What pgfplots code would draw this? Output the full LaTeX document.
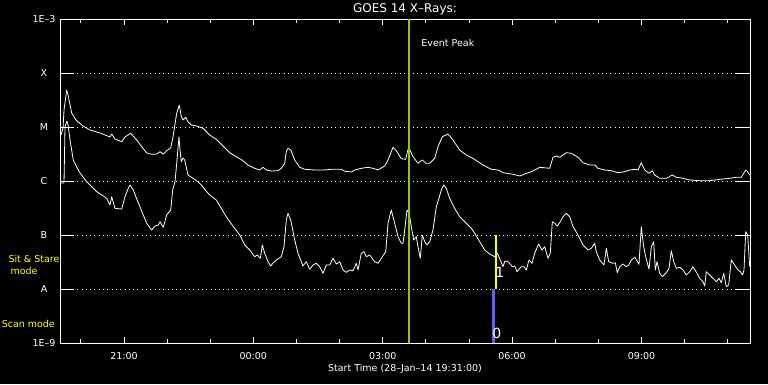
\documentclass[border=0pt]{standalone}
\usepackage{pgfplots}
\pgfplotsset{compat=1.18}
\usepackage{pgfplotstable}
\usepackage{fontspec}
\setmainfont{DejaVu Sans}
\definecolor{peakgreen}{RGB}{150,200,0}
\definecolor{scanblue}{RGB}{96,96,255}
\definecolor{modeyellow}{RGB}{255,255,0}

% x: hours since start (28-Jan-14 19:31:00); y: log10 of flux (W/m^2)
\pgfplotstableread{
h L
0.023 -5.148
0.070 -5.019
0.093 -4.685
0.155 -4.315
0.186 -4.407
0.271 -4.741
0.371 -4.870
0.533 -4.981
0.696 -5.056
0.928 -5.111
1.159 -5.185
1.199 -5.130
1.275 -5.222
1.431 -5.272
1.507 -5.185
1.639 -5.117
1.779 -5.241
1.901 -5.370
2.010 -5.481
2.126 -5.506
2.242 -5.500
2.319 -5.457
2.395 -5.500
2.474 -5.439
2.567 -5.389
2.620 -5.185
2.706 -4.746
2.766 -4.593
2.813 -4.809
2.852 -4.870
2.915 -4.820
2.968 -4.902
3.045 -4.963
3.170 -4.981
3.316 -5.024
3.471 -5.148
3.624 -5.228
3.780 -5.352
3.935 -5.476
4.088 -5.550
4.220 -5.611
4.359 -5.704
4.515 -5.765
4.631 -5.796
4.707 -5.746
4.784 -5.796
4.900 -5.815
5.055 -5.809
5.132 -5.765
5.210 -5.672
5.248 -5.457
5.287 -5.394
5.350 -5.426
5.443 -5.611
5.558 -5.746
5.674 -5.783
5.906 -5.796
6.138 -5.796
6.291 -5.783
6.523 -5.783
6.602 -5.820
6.755 -5.833
6.834 -5.796
6.987 -5.765
7.142 -5.746
7.258 -5.765
7.374 -5.796
7.529 -5.722
7.606 -5.611
7.722 -5.376
7.798 -5.439
7.914 -5.587
8.016 -5.598
8.070 -5.413
8.123 -5.439
8.186 -5.550
8.301 -5.672
8.401 -5.611
8.480 -5.672
8.573 -5.672
8.689 -5.580
8.765 -5.365
8.865 -5.180
8.997 -5.130
9.113 -5.241
9.268 -5.426
9.422 -5.519
9.577 -5.580
9.809 -5.704
10.001 -5.783
10.157 -5.796
10.272 -5.846
10.504 -5.876
10.667 -5.907
10.776 -5.870
10.929 -5.828
11.124 -5.746
11.355 -5.765
11.432 -5.561
11.509 -5.537
11.587 -5.561
11.740 -5.476
11.856 -5.487
12.012 -5.561
12.128 -5.661
12.283 -5.704
12.399 -5.704
12.475 -5.765
12.631 -5.796
12.784 -5.809
12.939 -5.846
13.094 -5.828
13.210 -5.796
13.333 -5.783
13.403 -5.796
13.479 -5.661
13.558 -5.796
13.658 -5.857
13.734 -5.809
13.790 -5.889
13.906 -5.950
14.059 -5.950
14.198 -5.889
14.291 -5.931
14.446 -5.950
14.602 -5.981
14.834 -5.994
15.066 -5.994
15.297 -5.969
15.529 -5.950
15.682 -5.931
15.798 -5.931
15.900 -5.796
15.946 -5.828
15.993 -5.889
}\longchannel

\pgfplotstableread{
h L
0.023 -6.037
0.093 -6.037
0.116 -5.000
0.162 -4.889
0.192 -4.981
0.232 -5.241
0.308 -5.611
0.387 -5.741
0.464 -5.852
0.619 -6.013
0.735 -6.106
0.851 -6.198
0.967 -6.259
1.083 -6.320
1.159 -6.444
1.199 -6.291
1.275 -6.506
1.431 -6.519
1.507 -6.291
1.577 -6.148
1.623 -6.074
1.700 -6.167
1.779 -6.333
1.855 -6.476
1.932 -6.630
2.010 -6.783
2.126 -6.907
2.203 -6.833
2.280 -6.815
2.319 -6.754
2.395 -6.857
2.474 -6.630
2.567 -6.537
2.613 -6.167
2.667 -6.013
2.713 -5.611
2.759 -5.180
2.783 -5.426
2.813 -5.643
2.852 -5.574
2.892 -5.611
2.968 -5.889
3.084 -5.950
3.200 -6.013
3.277 -6.074
3.369 -6.167
3.471 -6.259
3.624 -6.352
3.740 -6.506
3.856 -6.661
3.942 -6.759
4.051 -6.876
4.167 -7.000
4.283 -7.185
4.399 -7.278
4.515 -7.402
4.575 -7.370
4.645 -7.432
4.691 -7.185
4.747 -7.339
4.823 -7.494
4.886 -7.574
4.939 -7.519
5.016 -7.463
5.132 -7.402
5.194 -7.217
5.248 -6.722
5.287 -6.598
5.350 -6.722
5.443 -7.093
5.519 -7.339
5.635 -7.574
5.711 -7.494
5.790 -7.635
5.867 -7.556
5.943 -7.524
6.022 -7.587
6.099 -7.709
6.175 -7.556
6.254 -7.556
6.330 -7.432
6.407 -7.537
6.486 -7.494
6.562 -7.648
6.639 -7.691
6.718 -7.648
6.794 -7.661
6.871 -7.524
6.910 -7.648
6.987 -7.339
7.049 -7.309
7.103 -7.402
7.181 -7.370
7.297 -7.494
7.374 -7.524
7.450 -7.432
7.553 -7.309
7.606 -6.783
7.682 -6.537
7.761 -6.783
7.838 -7.031
7.914 -7.154
7.954 -7.154
7.993 -6.907
8.046 -6.537
8.093 -6.593
8.146 -6.846
8.202 -7.093
8.262 -7.031
8.301 -7.217
8.355 -7.432
8.401 -7.000
8.457 -7.124
8.510 -7.185
8.573 -7.124
8.649 -6.907
8.726 -6.476
8.788 -6.320
8.842 -6.167
8.897 -6.074
8.957 -6.135
9.036 -6.320
9.152 -6.506
9.268 -6.661
9.422 -6.783
9.538 -6.876
9.616 -6.969
9.732 -7.124
9.848 -7.278
9.964 -7.352
10.080 -7.402
10.140 -7.339
10.210 -7.463
10.272 -7.587
10.312 -7.494
10.372 -7.481
10.428 -7.524
10.488 -7.587
10.544 -7.574
10.597 -7.680
10.697 -7.587
10.759 -7.587
10.813 -7.648
10.875 -7.463
10.945 -7.524
11.007 -7.339
11.100 -7.167
11.177 -7.278
11.239 -7.217
11.316 -7.432
11.369 -7.339
11.416 -6.754
11.471 -6.783
11.532 -6.833
11.601 -6.754
11.664 -6.661
11.740 -6.598
11.819 -6.661
11.896 -6.846
12.012 -7.000
12.128 -7.185
12.243 -7.278
12.320 -7.246
12.399 -7.154
12.436 -7.309
12.515 -7.463
12.614 -7.556
12.668 -7.246
12.723 -7.494
12.823 -7.524
12.877 -7.513
12.923 -7.698
12.979 -7.587
13.055 -7.537
13.132 -7.587
13.187 -7.556
13.248 -7.463
13.333 -7.413
13.426 -7.543
13.479 -6.846
13.535 -7.217
13.581 -7.402
13.658 -7.635
13.711 -7.217
13.767 -7.124
13.804 -7.648
13.843 -7.494
13.906 -7.709
13.966 -7.772
14.059 -7.698
14.122 -7.617
14.175 -7.291
14.231 -7.494
14.291 -7.617
14.370 -7.598
14.446 -7.648
14.523 -7.741
14.602 -7.680
14.678 -7.587
14.771 -7.709
14.834 -7.802
14.910 -7.865
14.950 -7.944
14.987 -7.680
15.066 -7.741
15.142 -7.802
15.219 -7.865
15.281 -7.802
15.335 -7.883
15.390 -7.709
15.450 -7.957
15.506 -7.926
15.566 -7.463
15.645 -7.556
15.722 -7.648
15.775 -7.680
15.828 -7.741
15.861 -7.648
15.900 -6.939
15.946 -7.000
15.993 -7.587
}\shortchannel

\begin{document}
\begin{tikzpicture}[x=1pt,y=1pt]
\fill[black] (0,0) rectangle (768,384);
\useasboundingbox (0,0) rectangle (768,384);
\begin{axis}[
  at={(60pt,41pt)}, anchor=south west,
  width=690pt, height=324pt, scale only axis,
  xmin=0, xmax=16, ymin=-9, ymax=-3,
  axis line style={white, line width=0.9pt},
  tick align=inside,
  xtick pos=both,
  major tick length=6pt, minor tick length=4pt,
  every tick/.style={white, line width=0.9pt},
  xtick={1.4833,4.4833,7.4833,10.4833,13.4833},
  xticklabels={21:00,00:00,03:00,06:00,09:00},
  minor xtick={0.4833,2.4833,3.4833,5.4833,6.4833,8.4833,9.4833,11.4833,12.4833,14.4833,15.4833},
  ytick={-9,-8,-7,-6,-5,-4,-3},
  yticklabels={1E–9,A,B,C,M,X,1E–3},
  ytick style={draw=none},
  ymajorgrids,
  major grid style={white, line width=0.9pt, dash pattern=on 0.9pt off 3.4pt},
  ticklabel style={white, font=\fontsize{9.5}{11}\selectfont},
  xticklabel style={anchor=center, yshift=-12.7pt},
  yticklabel style={anchor=center, xshift=-16pt},
  title={GOES 14 X–Rays:},
  title style={white, at={(0.5,1)}, anchor=center, yshift=3.5pt, font=\fontsize{12}{14}\selectfont},
  xlabel={Start Time (28–Jan–14 19:31:00)},
  xlabel style={white, at={(0.5,0)}, anchor=center, yshift=-26pt, font=\fontsize{9.5}{11}\selectfont},
  clip=false,
]
\addplot[white, line width=0.8pt, line join=round] table[x=h, y=L] {\longchannel};
\addplot[white, line width=0.8pt, line join=round] table[x=h, y=L] {\shortchannel};
\addplot[peakgreen, line width=2pt] coordinates {(8.086,-9) (8.086,-3)};
\addplot[modeyellow, line width=2.2pt] coordinates {(10.110,-8) (10.110,-7)};
\addplot[scanblue, line width=2.8pt] coordinates {(10.048,-9) (10.048,-8)};
\node[white, anchor=west, font=\fontsize{9.5}{11}\selectfont] at (axis cs:8.30,-3.439) {Event Peak};
\node[white, font=\fontsize{14}{16}\selectfont] at (axis cs:10.20,-7.685) {1};
\node[white, font=\fontsize{14}{16}\selectfont] at (axis cs:10.13,-8.815) {0};
\end{axis}
% solid y ticks at each decade, left and right
\foreach \yy in {41,95,149,203,257,311,365} {
  \draw[white, line width=0.9pt] (60,\yy) -- (74,\yy);
  \draw[white, line width=0.9pt] (736,\yy) -- (750,\yy);
}
\node[modeyellow, font=\fontsize{9.5}{11}\selectfont] at (34,125) {Sit \& Stare};
\node[modeyellow, font=\fontsize{9.5}{11}\selectfont] at (24,113.3) {mode};
\node[modeyellow, font=\fontsize{9.5}{11}\selectfont] at (28.3,60) {Scan mode};
\end{tikzpicture}
\end{document}
